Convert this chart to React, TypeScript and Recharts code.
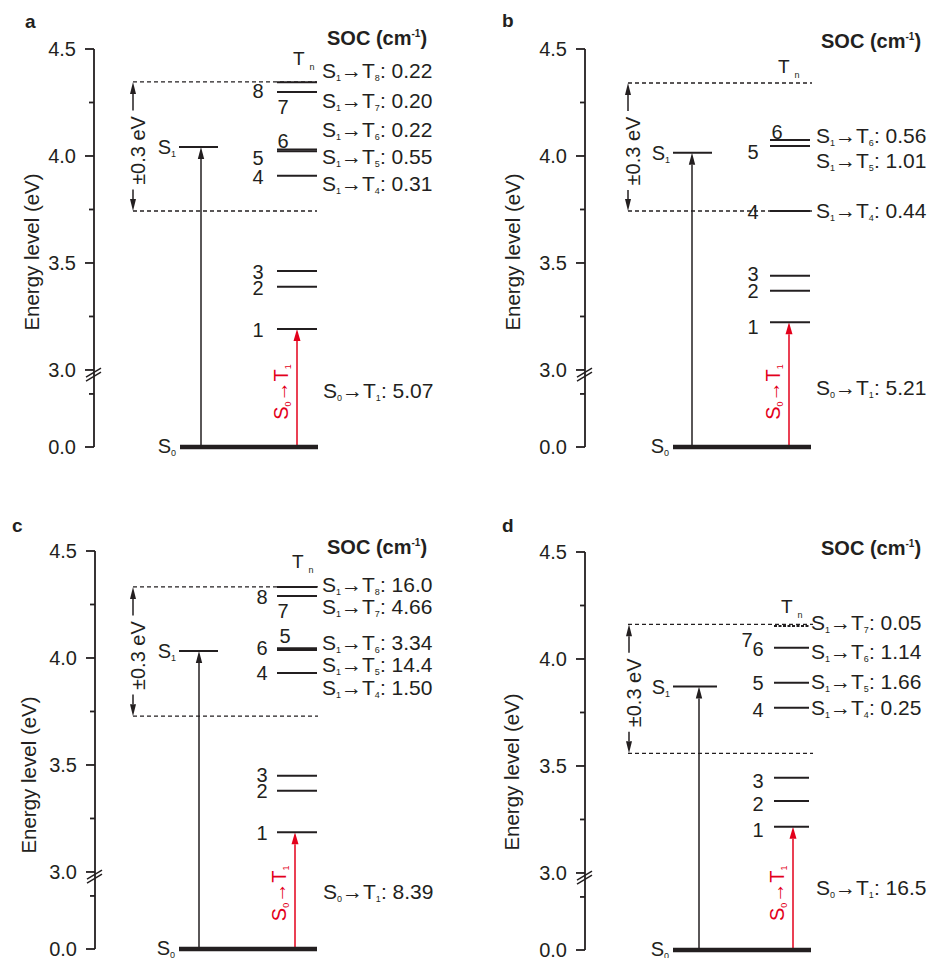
import React from 'react'
import { ComposedChart, XAxis, YAxis, Scatter, ReferenceLine } from 'recharts'

const FONT = '"Liberation Sans", Arial, Helvetica, sans-serif'
const INK = '#231f20'
const RED = '#e3001b'

// broken axis: 0.0 eV is drawn this far below 3.0 on the plot scale
const ZERO = 2.64
const LOW_MINOR = 2.888
const BREAK_AT = 2.981

const panelLetters = ['a', 'b', 'c', 'd']
const s1Levels = [4.042, 4.015, 4.033, 3.871]
const windowTop = [4.346, 4.341, 4.332, 4.162]
const windowBottom = [3.743, 3.743, 3.728, 3.559]

// triplet energies T1..Tn (eV)
const tripletsA = [3.192, 3.389, 3.463, 3.908, 4.022, 4.03, 4.299, 4.345]
const tripletsB = [3.223, 3.37, 3.44, 3.743, 4.047, 4.075]
const tripletsC = [3.186, 3.38, 3.45, 3.93, 4.037, 4.045, 4.29, 4.332]
const tripletsD = [3.216, 3.336, 3.445, 3.772, 3.889, 4.053, 4.154]

// SOC S1->Tn from T4 upwards (cm-1)
const socA = ['0.31', '0.55', '0.22', '0.20', '0.22']
const socB = ['0.44', '1.01', '0.56']
const socC = ['1.50', '14.4', '3.34', '4.66', '16.0']
const socD = ['0.25', '1.66', '1.14', '0.05']
const socS0T1 = ['5.07', '5.21', '8.39', '16.5']

const yTicks = [ZERO, LOW_MINOR, 3, 3.25, 3.5, 3.75, 4, 4.25, 4.5]
const yTickText = ['0.0', '', '3.0', '', '3.5', '', '4.0', '', '4.5']

const tripletSets = [tripletsA, tripletsB, tripletsC, tripletsD]
const socSets = [socA, socB, socC, socD]

// layout per panel, x in px from the y axis
const LAYOUT: any[] = [
  {
    left: 0, top: 0, letter: [25, 28], header: [327, 38], yLabel: [32, 252],
    s0: [86, 224], s1: [85, 124], t: [183, 223], dash: [39, 223], dbl: 39, arrow: 107, red: 203,
    socX: 228, socRows: [3.874, 4.0, 4.126, 4.258, 4.399], s0t1: [229, 2.903], tn: [199, 4.458], redLab: 2.897,
    tLab: [[-19, 1], [-19, 1], [-19, 1], [-19, 1], [-19, 7], [6, -9], [6, 15], [-19, 9]], dashedT: [],
  },
  {
    left: 491, top: 0, letter: [11, 27], header: [330, 41], yLabel: [22, 252],
    s0: [88, 226], s1: [88, 127], t: [185, 225], dash: [43, 227], dbl: 43, arrow: 107, red: 204,
    socX: 231, socRows: [3.744, 3.978, 4.095], s0t1: [231, 2.918], tn: [193, 4.42], redLab: 2.897,
    tLab: [[-17, 5], [-17, 0], [-17, -2], [-17, 1], [-17, 6], [7, -8]], dashedT: [],
  },
  {
    left: 1, top: 502, letter: [11, 30], header: [326, 45], yLabel: [28, 273],
    s0: [84, 222], s1: [84, 123], t: [182, 222], dash: [38, 223], dbl: 38, arrow: 104, red: 200,
    socX: 227, socRows: [3.861, 3.971, 4.071, 4.242, 4.344], s0t1: [228, 2.91], tn: [197, 4.453], redLab: 2.9,
    tLab: [[-15, 1], [-15, 0], [-15, -1], [-15, 0], [8, -14], [-15, 0], [6, 15], [-15, 10]], dashedT: [],
  },
  {
    left: 491, top: 503, letter: [11, 29], header: [330, 45], yLabel: [21, 269],
    s0: [88, 226], s1: [88, 132], t: [189, 224], dash: [43, 228], dbl: 44, arrow: 114, red: 208,
    socX: 226, socRows: [3.772, 3.896, 4.036, 4.169], s0t1: [231, 2.931], tn: [196, 4.247], redLab: 2.905,
    tLab: [[-16, 3], [-16, 3], [-16, 3], [-16, 2], [-16, 0], [-16, 1], [-27, 14]], dashedT: [7],
  },
]

// text with sub/superscripts; parts are strings or [text, 'sub' | 'sup']
function Rich({ x, y, parts, size = 20, subSize = 9, shift = 3, fill = INK, anchor = 'start', angle = 0, weight = 400 }: any) {
  let cur = 0
  const spans = parts.map((p: any, k: number) => {
    const [t, kind] = typeof p === 'string' ? [p, ''] : p
    const target = kind === 'sub' ? shift : kind === 'sup' ? -size * 0.42 : 0
    const dy = target - cur
    cur = target
    return (
      <tspan key={k} dy={dy} fontSize={kind ? subSize : size}>
        {t}
      </tspan>
    )
  })
  return (
    <text
      x={x}
      y={y + size * 0.36}
      textAnchor={anchor}
      fill={fill}
      fontFamily={FONT}
      fontWeight={weight}
      fontSize={size}
      transform={angle ? `rotate(${angle} ${x} ${y})` : undefined}
    >
      {spans}
    </text>
  )
}

const AxisTick = (p: any) => {
  const { x, y, index } = p
  const label = yTickText[index]
  const ax = x + 18
  const len = label ? 9 : 5
  return (
    <g>
      <line x1={ax - len} x2={ax} y1={y} y2={y} stroke={INK} strokeWidth={1.8} />
      {label ? (
        <text x={x} y={y + 7} textAnchor="end" fontSize={20} fill={INK} fontFamily={FONT}>
          {label}
        </text>
      ) : null}
    </g>
  )
}

const breakShape = (p: any) => {
  const { x1, y1 } = p
  return (
    <g>
      <polygon points={`${x1 - 8},${y1 + 3} ${x1 + 7},${y1 - 6} ${x1 + 7},${y1 - 2} ${x1 - 8},${y1 + 7}`} fill="#fff" />
      <line x1={x1 - 8} y1={y1 + 3} x2={x1 + 7} y2={y1 - 6} stroke={INK} strokeWidth={1.5} />
      <line x1={x1 - 8} y1={y1 + 7} x2={x1 + 7} y2={y1 - 2} stroke={INK} strokeWidth={1.5} />
    </g>
  )
}

// vertical arrow, tip at the second segment point
const arrowShape = (color: string, gap = 0, half = 3.2) => (p: any) => {
  const { x1, y1, x2, y2 } = p
  const dir = y2 < y1 ? -1 : 1
  const head = 12
  const base = y2 - dir * head
  return (
    <g>
      <line x1={x1} y1={y1 + dir * gap} x2={x2} y2={base} stroke={color} strokeWidth={1.5} />
      <polygon points={`${x2},${y2} ${x2 - half},${base} ${x2 + half},${base}`} fill={color} />
    </g>
  )
}

function Panel({ i }: { i: number }) {
  const L = LAYOUT[i]
  const trip = tripletSets[i]
  const tripData = trip.map((e, k) => ({ x: L.t[0], y: e, n: k + 1 }))
  const socData = socSets[i].map((v, k) => ({ x: L.socX, y: L.socRows[k], n: k + 4, v }))
  const mid = (windowTop[i] + windowBottom[i]) / 2

  const tripShape = (p: any) => {
    const { cx, cy, payload } = p
    const [dx, dy] = L.tLab[payload.n - 1]
    const dashed = L.dashedT.includes(payload.n)
    return (
      <g>
        <line x1={cx} x2={cx + L.t[1] - L.t[0]} y1={cy} y2={cy} stroke={INK} strokeWidth={2} strokeDasharray={dashed ? '3 1.5' : undefined} />
        <text x={cx + dx} y={cy + dy + 7} textAnchor="middle" fontSize={20} fill={INK} fontFamily={FONT}>
          {payload.n}
        </text>
      </g>
    )
  }
  const s0Shape = (p: any) => (
    <g>
      <line x1={p.cx} x2={p.cx + L.s0[1] - L.s0[0]} y1={p.cy} y2={p.cy} stroke={INK} strokeWidth={4.5} />
      <Rich x={p.cx - 4} y={p.cy - 1} anchor="end" parts={['S', ['0', 'sub']]} />
    </g>
  )
  const s1Shape = (p: any) => (
    <g>
      <line x1={p.cx} x2={p.cx + L.s1[1] - L.s1[0]} y1={p.cy} y2={p.cy} stroke={INK} strokeWidth={2} />
      <Rich x={p.cx - 3} y={p.cy} anchor="end" parts={['S', ['1', 'sub']]} />
    </g>
  )
  const socShape = (p: any) => (
    <Rich x={p.cx} y={p.cy} size={21} parts={['S', ['1', 'sub'], '\u2192T', [String(p.payload.n), 'sub'], ': ' + p.payload.v]} />
  )
  const s0t1Shape = (p: any) => (
    <Rich x={p.cx} y={p.cy} size={21} parts={['S', ['0', 'sub'], '\u2192T', ['1', 'sub'], ': ' + socS0T1[i]]} />
  )
  const tnShape = (p: any) => <Rich x={p.cx} y={p.cy} size={19} shift={5} parts={['T ', ['n', 'sub']]} />
  const windowShape = (p: any) => <Rich x={p.cx + 5} y={p.cy + 4} angle={-90} anchor="middle" parts={['\u00b10.3 eV']} />
  const redShape = (p: any) => (
    <Rich x={p.cx - 16} y={p.cy} angle={-90} anchor="middle" fill={RED} parts={['S', ['0', 'sub'], '\u2192T', ['1', 'sub']]} />
  )

  return (
    <div style={{ position: 'absolute', left: L.left, top: L.top }}>
      <ComposedChart width={440} height={466} margin={{ top: 49, right: 0, bottom: 19, left: 0 }}>
        <XAxis type="number" dataKey="x" domain={[0, 346]} hide />
        <YAxis
          type="number"
          dataKey="y"
          domain={[ZERO, 4.5]}
          ticks={yTicks}
          interval={0}
          width={94}
          tickSize={9}
          tickMargin={9}
          tickLine={false}
          tick={AxisTick}
          axisLine={{ stroke: INK, strokeWidth: 1.8 }}
        />
        <ReferenceLine y={BREAK_AT} shape={breakShape} />
        <ReferenceLine
          segment={[{ x: L.dash[0], y: windowTop[i] }, { x: L.dash[1], y: windowTop[i] }]}
          stroke={INK}
          strokeWidth={1.3}
          strokeDasharray="4 3"
        />
        <ReferenceLine
          segment={[{ x: L.dash[0], y: windowBottom[i] }, { x: L.dash[1], y: windowBottom[i] }]}
          stroke={INK}
          strokeWidth={1.3}
          strokeDasharray="4 3"
        />
        <ReferenceLine segment={[{ x: L.dbl, y: mid }, { x: L.dbl, y: windowTop[i] }]} shape={arrowShape(INK, 36, 3)} />
        <ReferenceLine segment={[{ x: L.dbl, y: mid }, { x: L.dbl, y: windowBottom[i] }]} shape={arrowShape(INK, 43, 3)} />
        <ReferenceLine segment={[{ x: L.arrow, y: ZERO }, { x: L.arrow, y: s1Levels[i] }]} shape={arrowShape(INK)} />
        <ReferenceLine segment={[{ x: L.red, y: ZERO }, { x: L.red, y: trip[0] }]} shape={arrowShape(RED, 0, 3.5)} />
        <Scatter data={[{ x: L.s0[0], y: ZERO }]} shape={s0Shape} isAnimationActive={false} />
        <Scatter data={[{ x: L.s1[0], y: s1Levels[i] }]} shape={s1Shape} isAnimationActive={false} />
        <Scatter data={tripData} shape={tripShape} isAnimationActive={false} />
        <Scatter data={socData} shape={socShape} isAnimationActive={false} />
        <Scatter data={[{ x: L.s0t1[0], y: L.s0t1[1] }]} shape={s0t1Shape} isAnimationActive={false} />
        <Scatter data={[{ x: L.tn[0], y: L.tn[1] }]} shape={tnShape} isAnimationActive={false} />
        <Scatter data={[{ x: L.dbl, y: mid }]} shape={windowShape} isAnimationActive={false} />
        <Scatter data={[{ x: L.red, y: L.redLab }]} shape={redShape} isAnimationActive={false} />
        <text x={L.letter[0]} y={L.letter[1]} fontSize={19} fontWeight={700} fill={INK} fontFamily={FONT}>
          {panelLetters[i]}
        </text>
        <Rich x={L.header[0]} y={L.header[1]} weight={700} size={20} subSize={10} parts={['SOC (cm', ['-1', 'sup'], ')']} />
        <Rich x={L.yLabel[0]} y={L.yLabel[1]} size={20.5} angle={-90} anchor="middle" parts={['Energy level (eV)']} />
      </ComposedChart>
    </div>
  )
}

export default function App() {
  return (
    <div style={{ position: 'absolute', left: 0, top: 0, width: 931, height: 958, background: '#fff', overflow: 'hidden' }}>
      {[0, 1, 2, 3].map((i) => (
        <Panel key={i} i={i} />
      ))}
    </div>
  )
}
